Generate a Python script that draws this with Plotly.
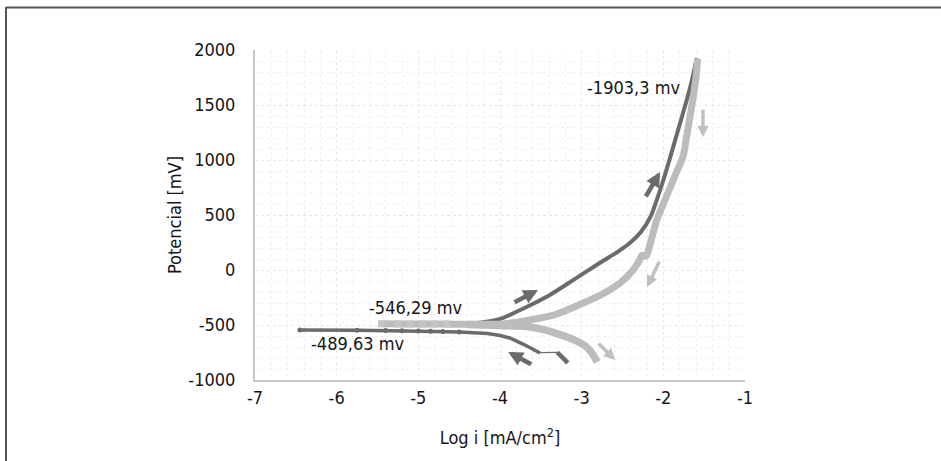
import plotly.graph_objects as go

# ---- data ----
dark_cath_x = [-3.17, -3.30]
dark_cath_y = [-845, -748]
dark_link_x = [-3.30, -3.51]
dark_link_y = [-748, -752]
dark_main_x = [-3.51, -3.70, -3.88, -4.00, -4.15, -4.30, -4.50, -4.80, -5.00, -5.20, -5.40, -5.75, -6.45]
dark_main_y = [-755, -680, -618, -595, -578, -570, -563, -558, -555, -552, -550, -548, -546]
dark_marker_x = [-6.45, -5.75, -5.40, -5.20, -5.00, -4.85, -4.70, -4.50]
dark_marker_y = [-546, -548, -550, -552, -555, -557, -560, -563]
dark_anod_x = [-4.50, -4.25, -4.00, -3.70, -3.39, -3.10, -2.78, -2.55, -2.41, -2.28, -2.16, -2.00, -1.83, -1.67, -1.59]
dark_anod_y = [-495, -480, -445, -345, -227, -90, 64, 170, 245, 340, 480, 818, 1245, 1664, 1925]

light_up_x = [-5.45, -5.20, -5.00, -4.70, -4.40, -4.00, -3.63, -3.30, -2.98, -2.75, -2.53, -2.38, -2.29, -2.26, -2.21, -2.18, -2.08, -1.95, -1.85, -1.76, -1.70, -1.64, -1.60, -1.58]
light_up_y = [-488, -490, -490, -492, -493, -492, -455, -400, -300, -220, -118, -10, 91, 135, 125, 185, 455, 690, 870, 1027, 1280, 1545, 1750, 1920]
light_low_x = [-4.40, -4.00, -3.63, -3.40, -3.18, -3.05, -2.94, -2.87, -2.81]
light_low_y = [-495, -505, -518, -555, -609, -650, -700, -760, -836]
light_marker_x = [-5.45, -5.25, -5.10, -4.95, -4.80, -4.65]
light_marker_y = [-488, -490, -490, -490, -491, -492]

x_ticks = [-7, -6, -5, -4, -3, -2, -1]
y_ticks = [-1000, -500, 0, 500, 1000, 1500, 2000]

labels_text = ["-1903,3 mv", "-546,29 mv", "-489,63 mv"]
labels_x = [-2.36, -5.03, -5.74]
labels_y = [1655, -345, -664]

# arrows: (tail x, tail y, head x, head y, colour key)
arrow_tail_x = [-3.84, -2.225, -3.60, -1.515, -2.04, -2.81]
arrow_tail_y = [-300, 655, -864, 1473, 91, -655]
arrow_head_x = [-3.535, -2.04, -3.90, -1.515, -2.20, -2.59]
arrow_head_y = [-182, 891, -745, 1209, -155, -818]
arrow_kind = ["dark", "dark", "dark", "light", "light", "light"]

DARK = "#6b6b6b"
LIGHT = "#bcbcbc"
FONT = "DejaVu Sans Condensed, DejaVu Sans, sans-serif"
TXT = "#161616"

fig = go.Figure()
fig.add_trace(go.Scatter(x=dark_main_x, y=dark_main_y, mode="lines",
                         line=dict(color=DARK, width=3.5), hoverinfo="skip"))
fig.add_trace(go.Scatter(x=dark_marker_x, y=dark_marker_y, mode="markers",
                         marker=dict(color=DARK, size=5), hoverinfo="skip"))
fig.add_trace(go.Scatter(x=dark_link_x, y=dark_link_y, mode="lines",
                         line=dict(color=DARK, width=1.2), hoverinfo="skip"))
fig.add_trace(go.Scatter(x=dark_cath_x, y=dark_cath_y, mode="lines",
                         line=dict(color=DARK, width=4.5), hoverinfo="skip"))
fig.add_trace(go.Scatter(x=dark_anod_x, y=dark_anod_y, mode="lines",
                         line=dict(color=DARK, width=4, shape="spline", smoothing=0.8), hoverinfo="skip"))
fig.add_trace(go.Scatter(x=light_up_x, y=light_up_y, mode="lines",
                         line=dict(color=LIGHT, width=7, shape="spline", smoothing=0.6), hoverinfo="skip"))
fig.add_trace(go.Scatter(x=light_low_x, y=light_low_y, mode="lines",
                         line=dict(color=LIGHT, width=7.5, shape="spline"), hoverinfo="skip"))
fig.add_trace(go.Scatter(x=light_marker_x, y=light_marker_y, mode="markers",
                         marker=dict(color="#c4c4c4", size=7, symbol="square"), hoverinfo="skip"))

ann = []
for t, x, y in zip(labels_text, labels_x, labels_y):
    ann.append(dict(text=t, x=x, y=y, xref="x", yref="y", showarrow=False,
                    font=dict(family=FONT, size=18, color=TXT)))
for tx, ty, hx, hy, k in zip(arrow_tail_x, arrow_tail_y, arrow_head_x, arrow_head_y, arrow_kind):
    c = DARK if k == "dark" else "#c0c0c0"
    w = 4.5 if k == "dark" else 3.5
    ann.append(dict(text="", x=hx, y=hy, ax=tx, ay=ty, xref="x", yref="y",
                    axref="x", ayref="y", showarrow=True, arrowhead=2,
                    arrowsize=0.65, arrowwidth=w, arrowcolor=c))

L, R, T, B = 255, 196, 50, 81
W, H = 941, 461
pw, ph = W - L - R, H - T - B
def px(xp):
    return (xp - L) / pw
def py(yp):
    return (H - B - yp) / ph

shapes = [
    dict(type="line", xref="paper", yref="paper", x0=px(6), x1=px(941), y0=py(7.5), y1=py(7.5),
         line=dict(color="#555555", width=2)),
    dict(type="line", xref="paper", yref="paper", x0=px(6), x1=px(6), y0=py(7), y1=py(461),
         line=dict(color="#555555", width=2)),
]

fig.update_layout(
    width=W, height=H,
    margin=dict(l=L, r=R, t=T, b=B),
    paper_bgcolor="white", plot_bgcolor="white",
    showlegend=False,
    annotations=ann, shapes=shapes,
    font=dict(family=FONT, size=18, color=TXT),
)
fig.update_xaxes(range=[-7, -1], tickvals=x_ticks, ticktext=[str(v) for v in x_ticks],
                 showline=True, linecolor="#c8c8c8", linewidth=2, ticks="",
                 showgrid=True, gridcolor="#e8e8e8", griddash="dot", gridwidth=1,
                 minor=dict(dtick=0.2, showgrid=True, gridcolor="#f0f0f0", griddash="dot"),
                 zeroline=False, tickfont=dict(size=18, color=TXT),
                 title=dict(text="Log i [mA/cm<sup>2</sup>]", font=dict(size=18, color=TXT), standoff=25))
fig.update_yaxes(range=[-1000, 2000], tickvals=y_ticks, ticktext=[str(v) for v in y_ticks],
                 showline=True, linecolor="#c8c8c8", linewidth=2, ticks="",
                 showgrid=True, gridcolor="#e8e8e8", griddash="dot", gridwidth=1,
                 minor=dict(dtick=100, showgrid=True, gridcolor="#f0f0f0", griddash="dot"),
                 zeroline=False, tickfont=dict(size=18, color=TXT), ticklabelstandoff=14,
                 title=dict(text="Potencial [mV]", font=dict(size=18, color=TXT), standoff=2))

fig.write_html("out.html")
